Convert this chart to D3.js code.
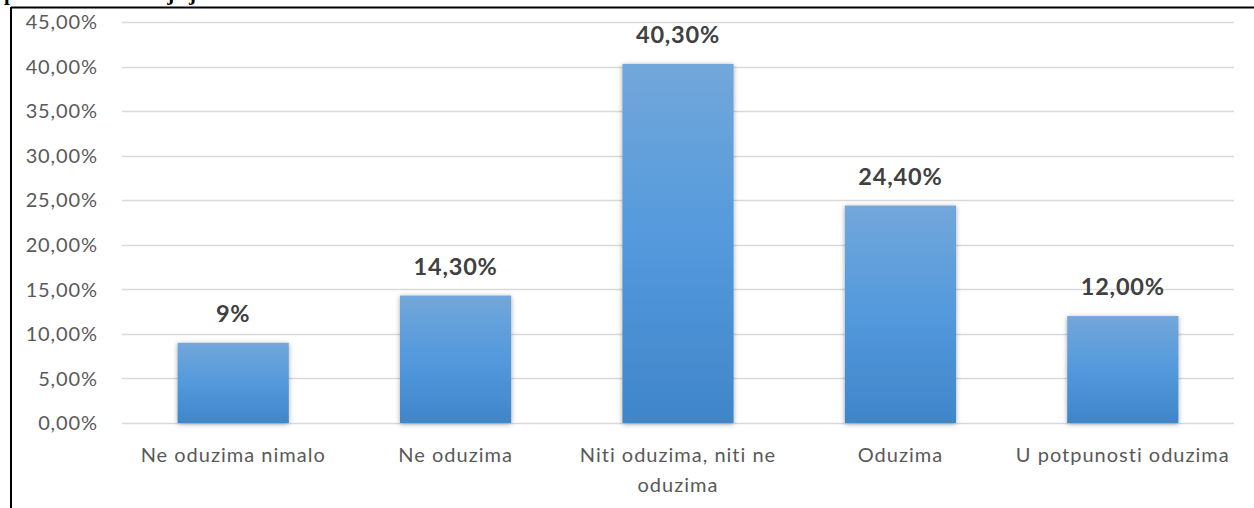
<!DOCTYPE html>
<html>
<head>
<meta charset="utf-8">
<script src="https://cdn.jsdelivr.net/npm/d3@7"></script>
<style>
  body { margin: 0; background: #fff; }
  svg { display: block; }
</style>
</head>
<body>
<div id="chart"></div>
<script>
var categories = ["Ne oduzima nimalo", "Ne oduzima", "Niti oduzima, niti ne oduzima", "Oduzima", "U potpunosti oduzima"];
var catLines = [["Ne oduzima nimalo"], ["Ne oduzima"], ["Niti oduzima, niti ne", "oduzima"], ["Oduzima"], ["U potpunosti oduzima"]];
var values = [9, 14.3, 40.3, 24.4, 12];
var valueLabels = ["9%", "14,30%", "40,30%", "24,40%", "12,00%"];
var yTicks = [0, 5, 10, 15, 20, 25, 30, 35, 40, 45];

function init(){
    var w = 1254;
    var h = 508;
    var font = "Lato, 'Open Sans', sans-serif";

    var svg = d3.select("#chart")
                .append("svg")
                .attr("width", w)
                .attr("height", h);

    var defs = svg.append("defs");
    var grad = defs.append("linearGradient")
                   .attr("id", "barGrad")
                   .attr("x1", 0).attr("y1", 0).attr("x2", 0).attr("y2", 1);
    grad.append("stop").attr("offset", "0%").attr("stop-color", "#72a7da");
    grad.append("stop").attr("offset", "50%").attr("stop-color", "#5399dc");
    grad.append("stop").attr("offset", "100%").attr("stop-color", "#3f86c9");

    var shadow = defs.append("filter")
                     .attr("id", "shadow")
                     .attr("x", "-20%").attr("y", "-20%")
                     .attr("width", "140%").attr("height", "140%");
    shadow.append("feDropShadow")
          .attr("dx", 0).attr("dy", 1)
          .attr("stdDeviation", 2.5)
          .attr("flood-color", "#000")
          .attr("flood-opacity", 0.35);

    // title text, mostly above the top edge (only its bottom shows)
    svg.append("text")
       .attr("x", 4)
       .attr("y", -0.5)
       .text("posebno na zdravlje je:")
       .style("font-family", "'Liberation Serif', serif")
       .style("font-weight", "bold")
       .style("font-size", "21px")
       .style("fill", "#000");

    // frame
    svg.append("line")
       .attr("x1", 11).attr("x2", w)
       .attr("y1", 7.5).attr("y2", 7.5)
       .attr("stroke", "#000").attr("stroke-width", 2);
    svg.append("line")
       .attr("x1", 11).attr("x2", 11)
       .attr("y1", 7).attr("y2", h)
       .attr("stroke", "#000").attr("stroke-width", 2);

    var x = d3.scaleBand()
              .domain(categories)
              .range([122, 1234])
              .paddingInner(0.5)
              .paddingOuter(0.25);

    var y = d3.scaleLinear()
              .domain([0, 45])
              .range([423, 22]);

    // gridlines
    svg.append("g")
       .selectAll("line")
       .data(yTicks)
       .enter()
       .append("line")
       .attr("x1", 122).attr("x2", 1234)
       .attr("y1", function(d){ return Math.round(y(d)) + 0.5; })
       .attr("y2", function(d){ return Math.round(y(d)) + 0.5; })
       .attr("stroke", "#d9d9d9")
       .attr("stroke-width", 1.5);

    // y tick labels
    svg.append("g")
       .selectAll("text")
       .data(yTicks)
       .enter()
       .append("text")
       .attr("x", 98)
       .attr("y", function(d){ return y(d); })
       .attr("dy", "0.36em")
       .attr("text-anchor", "end")
       .text(function(d){ return d3.format(".2f")(d).replace(".", ",") + "%"; })
       .style("font-family", font)
       .style("font-size", "20px")
       .style("letter-spacing", "0.9px")
       .style("fill", "#595959");

    // bars
    svg.append("g")
       .selectAll("rect")
       .data(values)
       .enter()
       .append("rect")
       .attr("x", function(d, i){ return x(categories[i]); })
       .attr("y", function(d){ return y(d); })
       .attr("width", x.bandwidth())
       .attr("height", function(d){ return y(0) - y(d); })
       .attr("fill", "url(#barGrad)")
       .attr("filter", "url(#shadow)");

    // value labels
    svg.append("g")
       .selectAll("text")
       .data(values)
       .enter()
       .append("text")
       .attr("x", function(d, i){ return x(categories[i]) + x.bandwidth() / 2; })
       .attr("y", function(d){ return y(d) - 21; })
       .attr("text-anchor", "middle")
       .text(function(d, i){ return valueLabels[i]; })
       .style("font-family", font)
       .style("font-weight", "bold")
       .style("font-size", "23.5px")
       .style("letter-spacing", "0.8px")
       .style("fill", "#404040");

    // category labels
    var cats = svg.append("g")
                  .selectAll("text")
                  .data(categories)
                  .enter()
                  .append("text")
                  .attr("x", function(d){ return x(d) + x.bandwidth() / 2; })
                  .attr("y", 462)
                  .attr("text-anchor", "middle")
                  .style("font-family", font)
                  .style("font-size", "20px")
                  .style("letter-spacing", "1px")
                  .style("fill", "#595959");

    cats.selectAll("tspan")
        .data(function(d, i){ return catLines[i]; })
        .enter()
        .append("tspan")
        .attr("x", function(){ return d3.select(this.parentNode).attr("x"); })
        .attr("dy", function(d, i){ return i === 0 ? 0 : 30; })
        .text(function(d){ return d; });
}

window.onload = init;
</script>
</body>
</html>
